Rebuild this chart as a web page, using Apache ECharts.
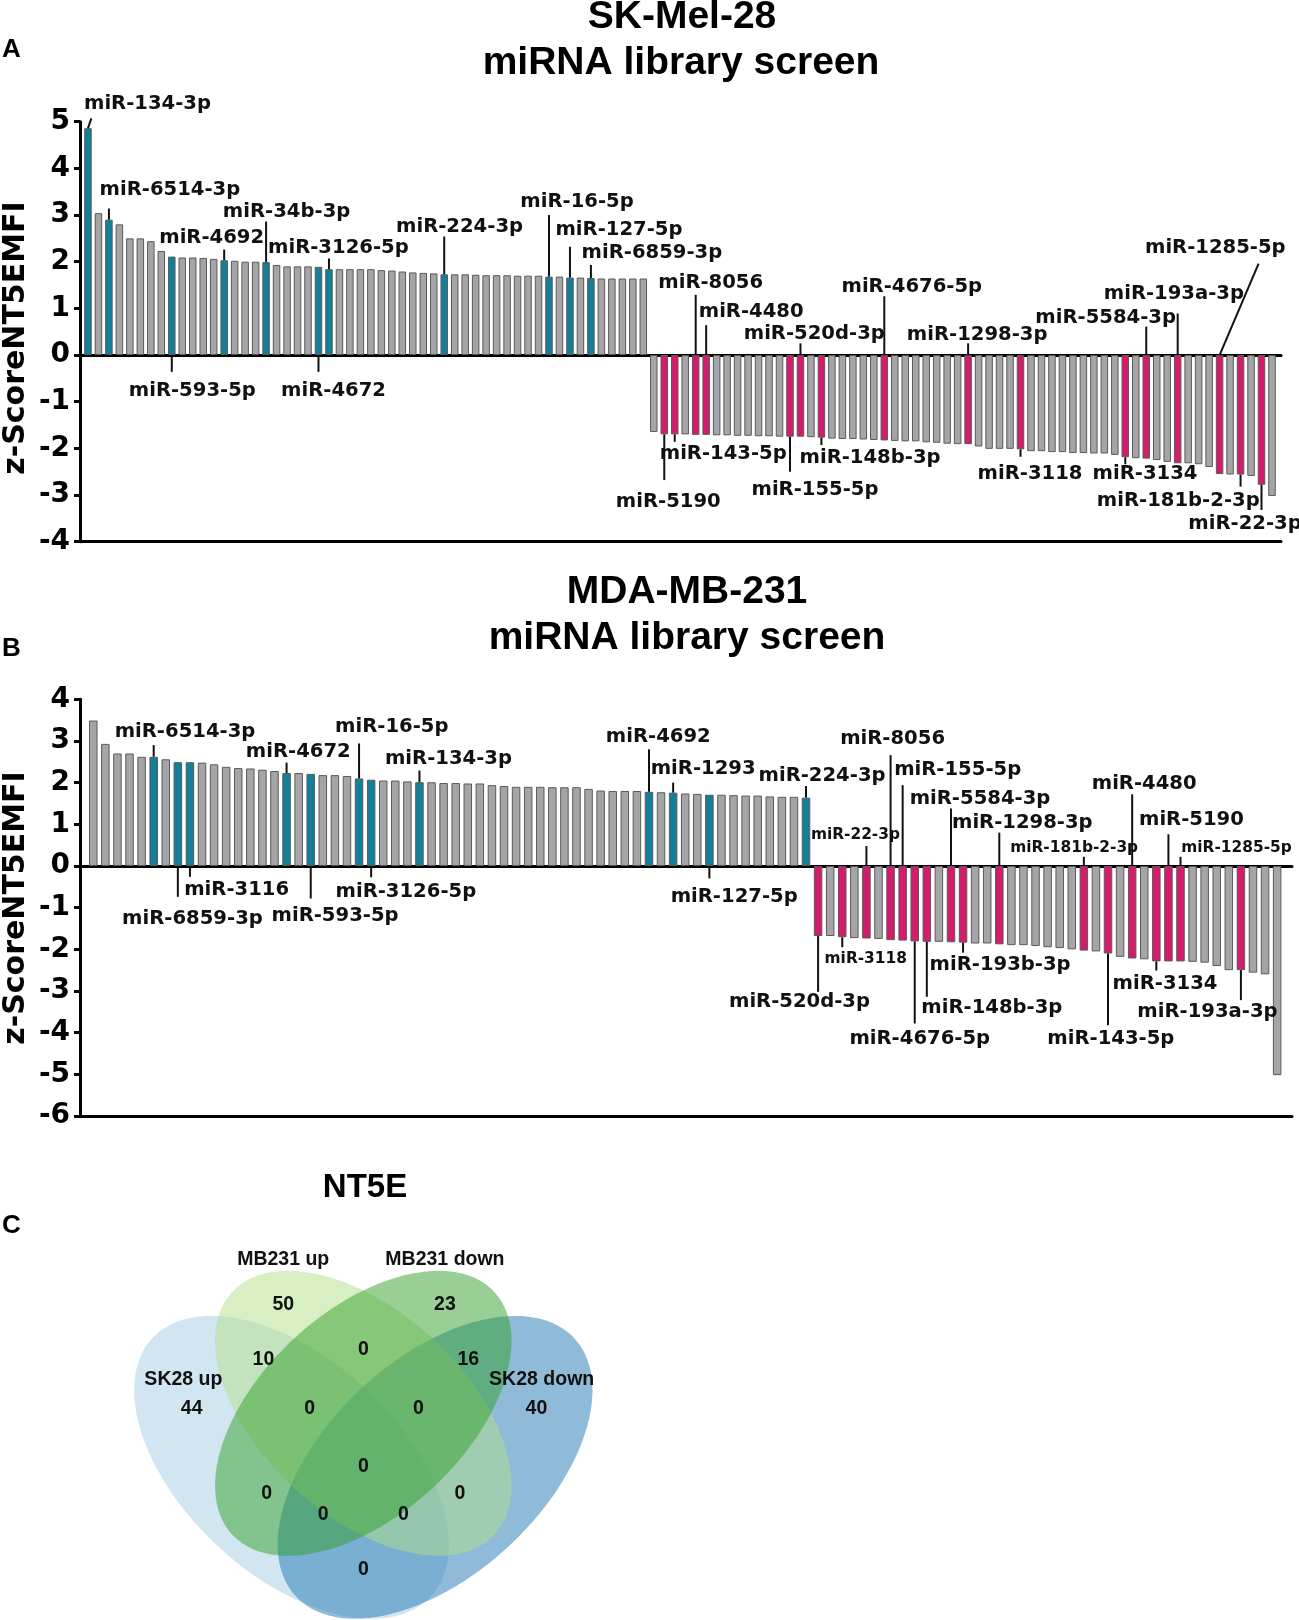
<!DOCTYPE html>
<html><head><meta charset="utf-8">
<script src="https://cdn.jsdelivr.net/npm/echarts@6/dist/echarts.min.js"></script>
<style>html,body{margin:0;padding:0;background:#fff}#c{width:1299px;height:1620px}</style>
</head><body><div id="c"></div>
<script>
// ---------- DATA ----------
// Panel A: SK-Mel-28 z-scores (54 up, 60 down)
const skValues = [4.86,3.04,2.90,2.80,2.50,2.50,2.44,2.23,2.11,2.09,2.09,2.08,2.06,2.03,2.02,2.00,2.00,1.99,1.93,1.90,
  1.90,1.90,1.89,1.84,1.84,1.84,1.84,1.84,1.82,1.81,1.79,1.77,1.76,1.75,1.73,1.73,1.73,1.72,1.71,1.71,
  1.71,1.70,1.70,1.70,1.68,1.68,1.66,1.66,1.65,1.64,1.64,1.64,1.64,1.64,
  -1.65,-1.70,-1.70,-1.70,-1.71,-1.71,-1.72,-1.72,-1.73,-1.73,-1.74,-1.74,-1.75,-1.75,-1.75,-1.76,-1.77,-1.79,-1.80,-1.80,
  -1.81,-1.82,-1.83,-1.84,-1.85,-1.85,-1.87,-1.88,-1.90,-1.91,-1.91,-1.96,-2.01,-2.01,-2.01,-2.02,-2.06,-2.06,-2.08,-2.08,
  -2.10,-2.10,-2.11,-2.11,-2.14,-2.19,-2.21,-2.22,-2.25,-2.29,-2.32,-2.32,-2.34,-2.40,-2.55,-2.56,-2.56,-2.59,-2.78,-3.02];
const skUp = [0,2,8,13,17,22,23,34,44,46,48];
const skDown = [55,56,58,59,67,68,70,76,84,89,99,101,104,108,110,112];
const skLabels = [['miR-134-3p',0],['miR-6514-3p',2],['miR-4692',13],['miR-34b-3p',17],['miR-3126-5p',23],
  ['miR-224-3p',34],['miR-16-5p',44],['miR-127-5p',46],['miR-6859-3p',48],['miR-593-5p',8],['miR-4672',22],
  ['miR-8056',58],['miR-4480',59],['miR-520d-3p',68],['miR-4676-5p',76],['miR-1298-3p',84],['miR-5584-3p',101],
  ['miR-193a-3p',104],['miR-1285-5p',108],['miR-5190',55],['miR-143-5p',56],['miR-155-5p',67],['miR-148b-3p',70],
  ['miR-3118',89],['miR-3134',99],['miR-181b-2-3p',110],['miR-22-3p',112]];

// Panel B: MDA-MB-231 z-scores (60 up, 39 down)
const mbValues = [3.49,2.93,2.70,2.70,2.62,2.62,2.56,2.49,2.49,2.48,2.44,2.38,2.35,2.34,2.31,2.28,2.23,2.23,2.21,2.18,
  2.18,2.16,2.10,2.07,2.05,2.05,2.03,2.01,2.01,1.99,1.99,1.98,1.98,1.94,1.92,1.90,1.90,1.90,1.89,1.89,
  1.89,1.85,1.81,1.80,1.80,1.80,1.78,1.77,1.76,1.74,1.73,1.71,1.71,1.70,1.69,1.69,1.67,1.66,1.66,1.64,
  -1.68,-1.68,-1.71,-1.73,-1.74,-1.75,-1.78,-1.79,-1.81,-1.82,-1.82,-1.83,-1.84,-1.86,-1.86,-1.88,-1.90,-1.90,-1.92,-1.95,
  -1.97,-2.00,-2.03,-2.05,-2.10,-2.18,-2.22,-2.24,-2.29,-2.29,-2.29,-2.30,-2.32,-2.40,-2.50,-2.50,-2.56,-2.60,-5.02];
const mbUp = [5,7,8,16,18,22,23,27,46,48,51,59];
const mbDown = [60,62,64,66,67,68,69,71,72,75,82,84,86,88,89,90,95];
const mbLabels = [['miR-6514-3p',5],['miR-6859-3p',7],['miR-3116',8],['miR-4672',16],['miR-593-5p',18],
  ['miR-16-5p',22],['miR-3126-5p',23],['miR-134-3p',27],['miR-4692',46],['miR-1293',48],['miR-127-5p',51],
  ['miR-224-3p',59],['miR-22-3p',64],['miR-8056',66],['miR-155-5p',67],['miR-5584-3p',71],['miR-1298-3p',75],
  ['miR-181b-2-3p',82],['miR-4480',86],['miR-5190',89],['miR-1285-5p',90],['miR-520d-3p',60],['miR-3118',62],
  ['miR-4676-5p',68],['miR-148b-3p',69],['miR-193b-3p',72],['miR-143-5p',84],['miR-3134',88],['miR-193a-3p',95]];

const skTicks = [5,4,3,2,1,0,-1,-2,-3,-4];
const mbTicks = [4,3,2,1,0,-1,-2,-3,-4,-5,-6];

// Panel C: Venn
const vennSets = ['SK28 up','SK28 down','MB231 up','MB231 down'];
const vennCounts = [50,23,10,0,16,44,0,0,40,0,0,0,0,0,0];

// ---------- LAYOUT (label placements) ----------
// [lineEnd value, lineDx px, textDx px, text center value, font size, align]
const skLabelPos = [[5.07,3.4,-4,5.39,19.6,'left'],[3.14,0,61,3.54,19.6],[2.26,0,-12.5,2.50,19.6],[2.86,0,20.5,3.07,19.6],
  [2.07,0,9.4,2.29,19.6],[2.54,0,15.3,2.75,19.6],[3.0,0,28,3.29,19.6],[2.32,0,49,2.68,19.6],[1.93,0,61,2.18,19.6],
  [-0.36,0,20.5,-0.76,19.6],[-0.36,0,15,-0.76,19.6],
  [1.29,0,15,1.54,19.6],[0.64,0,45,0.93,19.6],[0.25,0,13.8,0.45,19.6],[1.26,0,27.5,1.46,19.6],[0.25,0,9,0.43,19.6],
  [0.61,0,-40.6,0.79,19.6],[0.89,0,-3.8,1.32,19.6],[1.96,39,-4.3,2.29,19.6],
  [-2.68,0,4,-3.14,19.6],[-1.86,0,48.5,-2.11,19.6],[-2.50,0,25,-2.89,19.6],[-1.93,0,48.6,-2.21,19.6],
  [-2.18,0,9.5,-2.54,19.6],[-2.34,0,19.7,-2.54,19.6],[-2.82,0,-62.3,-3.12,19.6],[-3.32,0,-16.5,-3.61,19.6]];
const mbLabelPos = [[2.90,0,31.3,3.22,19.6],[-0.74,0,14.6,-1.26,19.6],[-0.26,0,46.7,-0.58,19.6],[2.48,0,11.7,2.74,19.6],
  [-0.78,0,24.3,-1.20,19.6],[2.94,0,32.7,3.34,19.6],[-0.27,0,34.7,-0.62,19.6],[2.29,0,29,2.58,19.6],[2.80,0,9.3,3.10,19.6],
  [2.0,0,30,2.34,19.6],[-0.30,0,24.8,-0.74,19.6],[1.92,0,16,2.15,19.6],[0.48,0,-11,0.74,15.4],[2.66,0,2,3.06,19.6],
  [1.94,0,55,2.30,19.6],[1.38,0,29,1.62,19.6],[0.80,0,23,1.04,19.6],[0.22,0,-9.7,0.42,15.4],[1.72,0,12,1.98,19.6],
  [0.76,0,23,1.10,19.6],[0.22,0,56,0.42,15.4],[-3.02,0,-18.6,-3.27,19.6],[-1.95,0,23.5,-2.24,15.4],[-3.78,0,5,-4.14,19.6],
  [-3.14,0,65,-3.40,19.6],[-2.08,0,37,-2.38,19.6],[-3.82,0,2.8,-4.16,19.6],[-2.51,0,8.7,-2.82,19.6],[-3.22,0,-33.4,-3.50,19.6]];
// Venn geometry (normalized): [cx, cy, rotation deg, a, b], order matches vennSets
const vennShapes = [[0.362,0.462,-45,0.372,0.212],[0.638,0.462,45,0.372,0.212],[0.5,0.57,-45,0.35,0.2],[0.5,0.57,45,0.35,0.2]];
const vennColors = ['#a6cee3','#1f78b4','#b2df8a','#33a02c'];
const vennCountPos = [[.346,.787],[.657,.787],[.308,.677],[.5,.697],[.702,.677],[.170,.58],[.397,.58],[.606,.58],[.833,.58],
  [.5,.463],[.314,.41],[.686,.41],[.423,.367],[.577,.367],[.5,.257]];
const vennSetPos = [[.154,.637],[.843,.637],[.346,.877],[.657,.877]];

// ---------- CHART ----------
const GRAY='#a5a5a7', TEAL='#137f98', PINK='#d31c6c', EDGE='#5a5a5a';
function barData(vals, up, down){
  return vals.map((v,i)=>({value:[i,v], itemStyle:{color: up.includes(i)?TEAL:(down.includes(i)?PINK:GRAY)}}));
}
function annoSeries(labels,pos,values,ai){
  return {type:'custom', xAxisIndex:ai*2, yAxisIndex:ai, clip:false, silent:true, z:5,
    data: labels.map(l=>[l[1], values[l[1]]]), encode:{x:0,y:1},
    renderItem:(params,api)=>{
      const k=params.dataIndex, name=labels[k][0], idx=labels[k][1];
      const p=pos[k], v=values[idx];
      const start = p[3]>0 ? Math.max(v,0) : Math.min(v,0);
      const p0=api.coord([idx,start]), p1=api.coord([idx,p[0]]), pt=api.coord([idx,p[3]]);
      return {type:'group', children:[
        {type:'line', shape:{x1:p0[0],y1:p0[1],x2:p1[0]+p[1],y2:p1[1]}, style:{stroke:'#111',lineWidth:2}},
        {type:'text', x:pt[0]+p[2], y:pt[1], style:{text:name, font:'bold '+p[4]+'px "DejaVu Sans"', fill:'#111',
          textAlign:p[5]||'center', textVerticalAlign:'middle'}}
      ]};
    }};
}
function xAxes(grid,min,max){
  const base={type:'value', gridIndex:grid, min:min, max:max, splitLine:{show:false}, axisTick:{show:false}, axisLabel:{show:false}, position:'bottom'};
  return [Object.assign({},base,{axisLine:{show:true,onZero:true,lineStyle:{color:'#000',width:3}}}),
          Object.assign({},base,{axisLine:{show:true,onZero:false,lineStyle:{color:'#000',width:3}}})];
}
function yAxis(grid,min,max){
  return {type:'value', gridIndex:grid, min:min, max:max, interval:1, splitLine:{show:false},
    axisLine:{show:true,onZero:false,lineStyle:{color:'#000',width:3}},
    axisTick:{show:true,length:6,lineStyle:{color:'#000',width:3}},
    axisLabel:{margin:10,color:'#000',fontFamily:'DejaVu Sans',fontWeight:'bold',fontSize:28}};
}
const chart = echarts.init(document.getElementById('c'), null, {renderer:'canvas'});
const txt=(t,x,y,font,align,rot)=>({type:'text', x:x, y:y, rotation:rot||0, style:{text:t, font:font, fill:'#000', textAlign:align||'center', textVerticalAlign:'middle'}});
const TF='bold 39px "Liberation Sans"';
chart.setOption({
  animation:false, backgroundColor:'#fff',
  grid:[{left:80, top:121.7, width:1201, height:420},
        {left:80, top:699.3, width:1212, height:416.7},
        {left:103.3, top:1198.3, width:520, height:420}],
  xAxis:[...xAxes(0,-0.76,113.86), ...xAxes(1,-1.10,99.23),
         {type:'value',gridIndex:2,min:0,max:1,show:false}],
  yAxis:[yAxis(0,-4,5), yAxis(1,-6,4), {type:'value',gridIndex:2,min:0.16,max:1,show:false}],
  graphic:[
    txt('SK-Mel-28',682,17.5,TF), txt('miRNA library screen',681,63.5,TF),
    txt('MDA-MB-231',687,592,TF), txt('miRNA library screen',687,638.5,TF),
    txt('A',2,49.6,'bold 26px "Liberation Sans"','left'), txt('B',2,649,'bold 26px "Liberation Sans"','left'),
    txt('C',2,1225.6,'bold 26px "Liberation Sans"','left'),
    txt('NT5E',365,1188,'bold 33px "Liberation Sans"'),
    txt('z-ScoreNT5EMFI',16,338,'bold 30px "DejaVu Sans"','center',Math.PI/2),
    txt('z-ScoreNT5EMFI',16,908,'bold 30px "DejaVu Sans"','center',Math.PI/2)
  ],
  series:[
    {type:'bar', xAxisIndex:0, yAxisIndex:0, barWidth:7.5, data:barData(skValues,skUp,skDown),
      itemStyle:{borderColor:EDGE,borderWidth:1}, silent:true},
    {type:'bar', xAxisIndex:2, yAxisIndex:1, barWidth:8.5, data:barData(mbValues,mbUp,mbDown),
      itemStyle:{borderColor:EDGE,borderWidth:1}, silent:true},
    annoSeries(skLabels,skLabelPos,skValues,0),
    annoSeries(mbLabels,mbLabelPos,mbValues,1),
    {type:'custom', xAxisIndex:4, yAxisIndex:2, clip:false, silent:true,
      data: vennShapes.map(s=>[s[0],s[1]]), encode:{x:0,y:1},
      renderItem:(params,api)=>{
        const s=vennShapes[params.dataIndex], th=s[2]*Math.PI/180, a=s[3], b=s[4], pts=[];
        for(let k=0;k<120;k++){const t=k/120*2*Math.PI;
          pts.push(api.coord([s[0]+a*Math.cos(t)*Math.cos(th)-b*Math.sin(t)*Math.sin(th),
                              s[1]+a*Math.cos(t)*Math.sin(th)+b*Math.sin(t)*Math.cos(th)]));}
        return {type:'polygon', shape:{points:pts}, style:{fill:vennColors[params.dataIndex], opacity:0.5}};
      }},
    {type:'custom', xAxisIndex:4, yAxisIndex:2, clip:false, silent:true, z:6,
      data: vennCountPos.map((p,i)=>[p[0],p[1],vennCounts[i]]), encode:{x:0,y:1},
      renderItem:(params,api)=>{
        const p=api.coord([api.value(0),api.value(1)]);
        return {type:'text', x:p[0], y:p[1], style:{text:String(vennCounts[params.dataIndex]), font:'bold 19.5px "Liberation Sans"', fill:'#111', textAlign:'center', textVerticalAlign:'middle'}};
      }},
    {type:'custom', xAxisIndex:4, yAxisIndex:2, clip:false, silent:true, z:6,
      data: vennSetPos.map(p=>[p[0],p[1]]), encode:{x:0,y:1},
      renderItem:(params,api)=>{
        const p=api.coord([api.value(0),api.value(1)]);
        return {type:'text', x:p[0], y:p[1], style:{text:vennSets[params.dataIndex], font:'bold 19.5px "Liberation Sans"', fill:'#111', textAlign:'center', textVerticalAlign:'middle'}};
      }}
  ]
});
</script></body></html>
